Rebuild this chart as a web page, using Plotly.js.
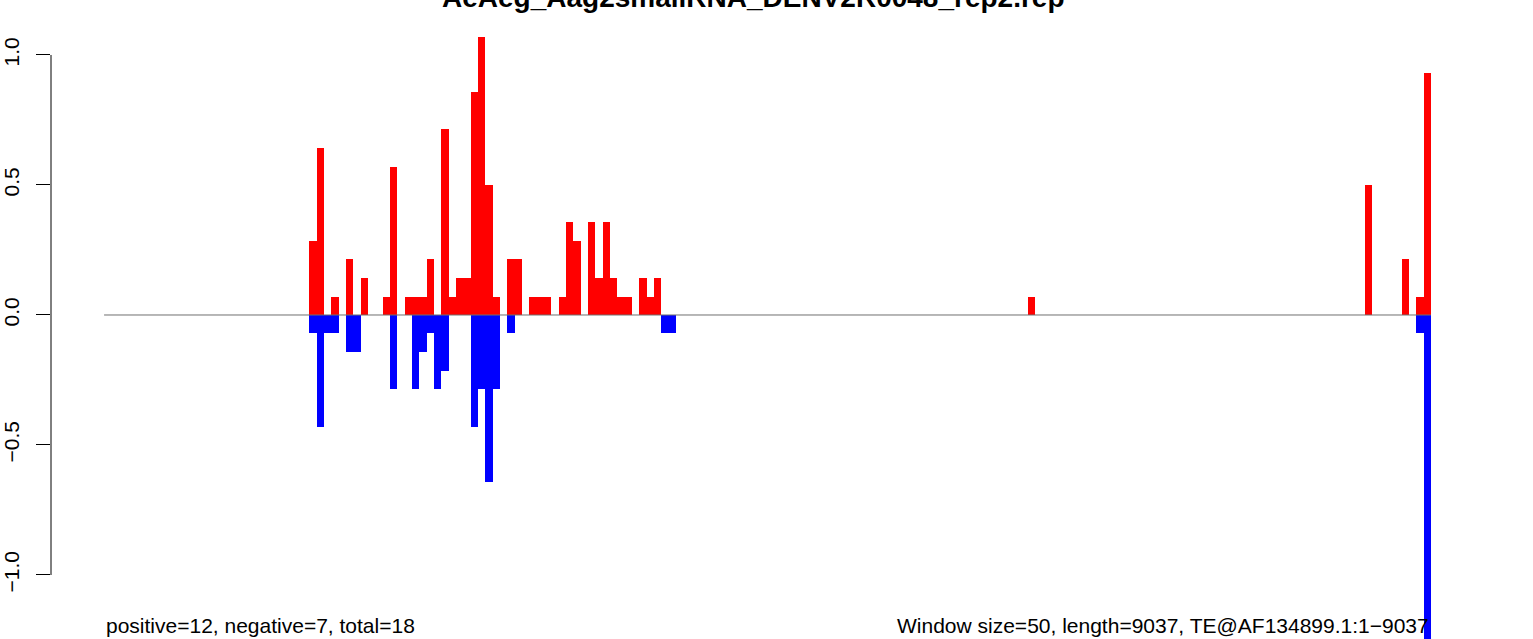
<!DOCTYPE html>
<html>
<head>
<meta charset="utf-8">
<script src="https://cdn.plot.ly/plotly-3.0.1.min.js"></script>
<style>
  html, body { margin: 0; padding: 0; background: #ffffff; }
  #chart { width: 1533px; height: 639px; }
</style>
</head>
<body>
<div id="chart"></div>
<script>
// ---- data ----
const chartTitle = "AeAeg_Aag2smallRNA_DENV2R0048_rep2.rep";
const leftNote = "positive=12, negative=7, total=18";
const rightNote = "Window size=50, length=9037, TE@AF134899.1:1\u22129037";
const nWindows = 181;

// window index (0-based) and normalised value of sense (positive) reads
const posWindows = [28, 29, 31, 33, 35, 38, 39, 41, 42, 43, 44, 46, 47, 48, 49, 50, 51, 52, 53,
                    55, 56, 58, 59, 60, 62, 63, 64, 66, 67, 68, 69, 70, 71, 73, 74, 75,
                    126, 172, 177, 179, 180];
const posValues  = [0.286, 0.643, 0.071, 0.214, 0.143, 0.071, 0.571, 0.071, 0.071, 0.071, 0.214,
                    0.714, 0.071, 0.143, 0.143, 0.857, 1.071, 0.5, 0.071,
                    0.214, 0.214, 0.071, 0.071, 0.071, 0.071, 0.357, 0.286, 0.357, 0.143, 0.357,
                    0.143, 0.071, 0.071, 0.143, 0.071, 0.143,
                    0.071, 0.5, 0.214, 0.071, 0.929];

// window index and normalised value of antisense (negative) reads
const negWindows = [28, 29, 30, 31, 33, 34, 39, 42, 43, 44, 45, 46, 50, 51, 52, 53, 55, 76, 77, 179, 180];
const negValues  = [-0.071, -0.429, -0.071, -0.071, -0.143, -0.143, -0.286, -0.286, -0.143, -0.071,
                    -0.286, -0.214, -0.429, -0.286, -0.643, -0.286, -0.071, -0.071, -0.071, -0.071, -1.286];

const yTickVals = [-1, -0.5, 0, 0.5, 1];
const yTickText = ["\u22121.0", "\u22120.5", "0.0", "0.5", "1.0"];

// ---- drawing ----
const FONT = "'Liberation Sans', Arial, Helvetica, sans-serif";

const traces = [
  {
    type: "bar",
    x: posWindows.map(w => w + 0.5),
    y: posValues,
    width: posWindows.map(() => 1),
    marker: { color: "#ff0000", line: { width: 0 } },
    hoverinfo: "x+y",
    showlegend: false
  },
  {
    type: "bar",
    x: negWindows.map(w => w + 0.5),
    y: negValues,
    width: negWindows.map(() => 1),
    marker: { color: "#0000ff", line: { width: 0 } },
    hoverinfo: "x+y",
    showlegend: false
  }
];

const layout = {
  width: 1533,
  height: 639,
  margin: { l: 51, r: 49, t: 0, b: 0, pad: 0 },
  paper_bgcolor: "#ffffff",
  plot_bgcolor: "#ffffff",
  barmode: "overlay",
  bargap: 0,
  showlegend: false,
  font: { family: FONT, size: 21, color: "#000000" },
  xaxis: {
    range: [-0.04 * nWindows, 1.04 * nWindows],
    showgrid: false, zeroline: false, showline: false,
    showticklabels: false, ticks: "",
    fixedrange: true
  },
  yaxis: {
    range: [-1.2462, 1.2115],
    showgrid: false, zeroline: false, showline: false,
    tickmode: "array",
    tickvals: yTickVals,
    ticktext: yTickText,
    ticks: "outside",
    ticklen: 14,
    tickwidth: 1,
    tickcolor: "#000000",
    tickangle: -90,
    ticklabelstandoff: 9,
    tickfont: { family: FONT, size: 21, color: "#000000" },
    fixedrange: true
  },
  shapes: [
    {
      type: "line", xref: "paper", yref: "y",
      x0: 0, x1: 0, y0: yTickVals[0], y1: yTickVals[yTickVals.length - 1],
      line: { color: "#000000", width: 1 }
    },
    {
      type: "line", xref: "x", yref: "y", layer: "above",
      x0: 0, x1: nWindows, y0: 0, y1: 0,
      line: { color: "#707070", width: 1 }
    }
  ],
  annotations: [
    {
      text: "<b>" + chartTitle + "</b>",
      xref: "paper", yref: "paper", x: 0.49, y: 1,
      xanchor: "center", yanchor: "bottom", yshift: -15,
      showarrow: false,
      font: { family: FONT, size: 28, color: "#000000" }
    },
    {
      text: leftNote,
      xref: "x", yref: "paper", x: 0, y: (639 - 625) / 639,
      xanchor: "left", yanchor: "middle",
      showarrow: false,
      font: { family: FONT, size: 21, color: "#000000" }
    },
    {
      text: rightNote,
      xref: "x", yref: "paper", x: nWindows, y: (639 - 625) / 639,
      xanchor: "right", yanchor: "middle",
      showarrow: false,
      font: { family: FONT, size: 21, color: "#000000" }
    }
  ]
};

Plotly.newPlot("chart", traces, layout, { displayModeBar: false, staticPlot: true });
</script>
</body>
</html>
